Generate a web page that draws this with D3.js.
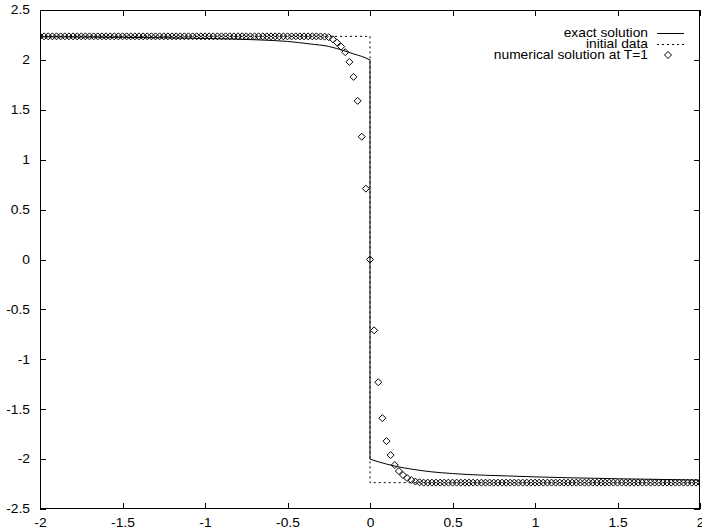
<!DOCTYPE html>
<html>
<head>
<meta charset="utf-8">
<script src="https://cdn.jsdelivr.net/npm/d3@7"></script>
<style>
  html, body { margin: 0; padding: 0; background: #fff; }
  svg { display: block; }
  text { font-family: "Liberation Sans", Arial, Helvetica, sans-serif; font-size: 12px; fill: #000; }
</style>
</head>
<body>
<svg id="chart" width="702" height="529"></svg>
<script>
// Axis ticks
const xTicks = [-2, -1.5, -1, -0.5, 0, 0.5, 1, 1.5, 2];
const yTicks = [-2.5, -2, -1.5, -1, -0.5, 0, 0.5, 1, 1.5, 2, 2.5];
const xTickLabels = ["-2", "-1.5", "-1", "-0.5", "0", "0.5", "1", "1.5", "2"];
const yTickLabels = ["-2.5", "-2", "-1.5", "-1", "-0.5", "0", "0.5", "1", "1.5", "2", "2.5"];

// Legend entries
const legendLabels = ["exact solution", "initial data", "numerical solution at T=1"];

// Exact solution, left and right of the jump at x = 0
const exactLeftX  = [-2, -1.5, -1, -0.667, -0.5, -0.364, -0.25, -0.16, -0.1, -0.05, 0];
const exactLeftY  = [2.232, 2.226, 2.215, 2.2, 2.185, 2.16, 2.135, 2.093, 2.06, 2.035, 2.0];
const exactRightX = [0, 0.05, 0.1, 0.17, 0.25, 0.37, 0.5, 0.6, 0.8, 1.0, 1.2, 1.5, 2.0];
const exactRightY = [-2.0, -2.027, -2.05, -2.077, -2.1, -2.127, -2.145, -2.155, -2.167, -2.178, -2.187, -2.197, -2.21];

// Initial data (Riemann step)
const initialX = [-2, 0, 0, 2];
const initialY = [2.236, 2.236, -2.236, -2.236];

// Numerical solution at T=1 on the grid x = -2, -1.975, ..., 2 (161 nodes)
const numericalStart = -2, numericalStep = 0.025;
const numericalY = [
  2.236, 2.236, 2.236, 2.236, 2.236, 2.236, 2.236, 2.236, 2.236, 2.236,
  2.236, 2.236, 2.236, 2.236, 2.236, 2.236, 2.236, 2.236, 2.236, 2.236,
  2.236, 2.236, 2.236, 2.236, 2.236, 2.236, 2.236, 2.236, 2.236, 2.236,
  2.236, 2.236, 2.236, 2.236, 2.236, 2.236, 2.236, 2.236, 2.236, 2.236,
  2.236, 2.236, 2.236, 2.236, 2.236, 2.236, 2.236, 2.236, 2.236, 2.236,
  2.236, 2.236, 2.236, 2.236, 2.236, 2.236, 2.236, 2.236, 2.236, 2.236,
  2.236, 2.236, 2.236, 2.236, 2.236, 2.236, 2.236, 2.236,
  2.235, 2.233, 2.227, 2.207, 2.173, 2.133, 2.077, 1.98, 1.83, 1.59, 1.23, 0.71,
  0,
  -0.71, -1.23, -1.59, -1.82, -1.96, -2.06, -2.12, -2.16, -2.19, -2.21, -2.225, -2.232,
  -2.236, -2.236, -2.236, -2.236, -2.236, -2.236, -2.236, -2.236, -2.236, -2.236,
  -2.236, -2.236, -2.236, -2.236, -2.236, -2.236, -2.236, -2.236, -2.236, -2.236,
  -2.236, -2.236, -2.236, -2.236, -2.236, -2.236, -2.236, -2.236, -2.236, -2.236,
  -2.236, -2.236, -2.236, -2.236, -2.236, -2.236, -2.236, -2.236, -2.236, -2.236,
  -2.236, -2.236, -2.236, -2.236, -2.236, -2.236, -2.236, -2.236, -2.236, -2.236,
  -2.236, -2.236, -2.236, -2.236, -2.236, -2.236, -2.236, -2.236, -2.236, -2.236,
  -2.236, -2.236, -2.236, -2.236, -2.236, -2.236, -2.236, -2.236
];

const plot = { left: 40, right: 700, top: 10, bottom: 509 };
const textStretch = 1.15;

const svg = d3.select("#chart");
const x = d3.scaleLinear().domain([-2, 2]).range([plot.left, plot.right]);
const y = d3.scaleLinear().domain([-2.5, 2.5]).range([plot.bottom, plot.top]);

// Frame
svg.append("rect")
  .attr("x", plot.left + 0.5).attr("y", plot.top + 0.5)
  .attr("width", plot.right - plot.left - 1).attr("height", plot.bottom - plot.top - 1)
  .attr("fill", "none").attr("stroke", "#000").attr("stroke-width", 1);

// Axes with inward ticks on all four sides
function styleAxis(g) {
  g.select(".domain").remove();
  g.selectAll("line").attr("stroke", "#000").attr("shape-rendering", "crispEdges");
}
svg.append("g").attr("transform", `translate(0,${plot.bottom})`)
  .call(d3.axisBottom(x).tickValues(xTicks).tickSize(-6).tickPadding(14)
    .tickFormat((d, i) => xTickLabels[i]))
  .call(styleAxis)
  .call(g => g.selectAll("text").attr("font-size", null)
    .attr("font-family", null).attr("dy", "0.32em")
    .attr("transform", `scale(${textStretch},1)`));
svg.append("g").attr("transform", `translate(0,${plot.top})`)
  .call(d3.axisTop(x).tickValues(xTicks).tickSize(-6).tickFormat(""))
  .call(styleAxis);
svg.append("g").attr("transform", `translate(${plot.left},0)`)
  .call(d3.axisLeft(y).tickValues(yTicks).tickSize(-6).tickPadding(10)
    .tickFormat((d, i) => yTickLabels[i]))
  .call(styleAxis)
  .call(g => g.selectAll("text").attr("font-size", null).attr("font-family", null)
    .attr("transform", `scale(${textStretch},1)`)
    .attr("x", -10 / textStretch));
svg.append("g").attr("transform", `translate(${plot.right},0)`)
  .call(d3.axisRight(y).tickValues(yTicks).tickSize(-6).tickFormat(""))
  .call(styleAxis);

svg.append("defs").append("clipPath").attr("id", "plotClip")
  .append("rect").attr("x", plot.left).attr("y", plot.top)
  .attr("width", plot.right - plot.left).attr("height", plot.bottom - plot.top);

const layer = svg.append("g").attr("clip-path", "url(#plotClip)");

// Initial data, dotted
const linear = d3.line().x(d => x(d[0])).y(d => y(d[1]));
layer.append("path")
  .datum(initialX.map((v, i) => [v, initialY[i]]))
  .attr("d", linear)
  .attr("fill", "none").attr("stroke", "#000").attr("stroke-width", 1)
  .attr("stroke-dasharray", "2,3");

// Exact solution, solid
const smooth = d3.line().x(d => x(d[0])).y(d => y(d[1])).curve(d3.curveMonotoneX);
const exactStyle = p => p.attr("fill", "none").attr("stroke", "#000").attr("stroke-width", 1);
layer.append("path").datum(exactLeftX.map((v, i) => [v, exactLeftY[i]]))
  .attr("d", smooth).call(exactStyle);
layer.append("path").datum(exactRightX.map((v, i) => [v, exactRightY[i]]))
  .attr("d", smooth).call(exactStyle);
layer.append("path")
  .datum([[0, exactLeftY[exactLeftY.length - 1]], [0, exactRightY[0]]])
  .attr("d", linear).call(exactStyle);

// Numerical solution, open diamonds
const diamond = "M0,-3.5L3.5,0L0,3.5L-3.5,0Z";
layer.selectAll("path.pt")
  .data(numericalY.map((v, i) => [numericalStart + i * numericalStep, v]))
  .join("path").attr("class", "pt")
  .attr("d", diamond)
  .attr("transform", d => `translate(${x(d[0])},${y(d[1])})`)
  .attr("fill", "none").attr("stroke", "#000").attr("stroke-width", 1);

// Legend
const legendRight = 648, legendTop = 33, legendRow = 11;
const legend = svg.append("g");
legendLabels.forEach((label, i) => {
  const ly = legendTop + i * legendRow;
  legend.append("g").attr("transform", `translate(${legendRight},${ly}) scale(${textStretch},1)`)
    .append("text").attr("text-anchor", "end").attr("dy", "0.35em").text(label);
  if (i === 0) {
    legend.append("line").attr("x1", 657).attr("x2", 684).attr("y1", ly + 0.5).attr("y2", ly + 0.5)
      .attr("stroke", "#000");
  } else if (i === 1) {
    legend.append("line").attr("x1", 657).attr("x2", 684).attr("y1", ly + 0.5).attr("y2", ly + 0.5)
      .attr("stroke", "#000").attr("stroke-dasharray", "2,3");
  } else {
    legend.append("path").attr("d", diamond)
      .attr("transform", `translate(668,${ly})`)
      .attr("fill", "none").attr("stroke", "#000");
  }
});
</script>
</body>
</html>
